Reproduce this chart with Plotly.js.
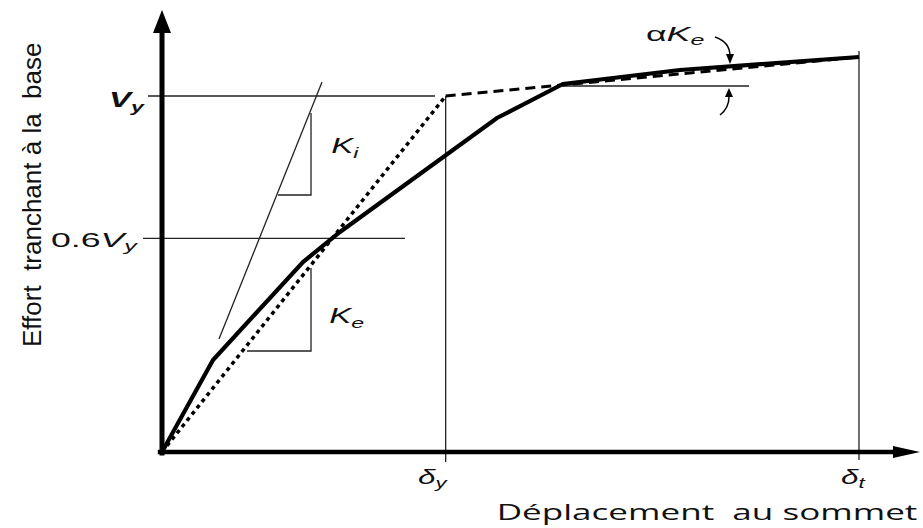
<!DOCTYPE html>
<html>
<head>
<meta charset="utf-8">
<script src="https://cdn.plot.ly/plotly-3.0.1.min.js"></script>
<style>
  html, body { margin: 0; padding: 0; background: #fff; }
  #chart { width: 923px; height: 528px; }
  /* the reference figure is stretched horizontally: mimic it on the labels */
  g.annotation[data-index="0"] text.annotation-text,
  g.annotation[data-index="2"] text.annotation-text,
  g.annotation[data-index="3"] text.annotation-text,
  g.annotation[data-index="5"] text.annotation-text,
  g.annotation[data-index="6"] text.annotation-text {
    transform: scaleX(1.5); transform-box: fill-box; transform-origin: center;
  }
  g.annotation[data-index="1"] text.annotation-text,
  g.annotation[data-index="4"] text.annotation-text {
    transform: scaleX(1.7); transform-box: fill-box; transform-origin: center;
  }
  g.annotation[data-index="7"] text.annotation-text {
    transform: scaleX(1.67); transform-box: fill-box; transform-origin: center;
  }
</style>
</head>
<body>
<div id="chart"></div>
<script>
// ---- values (displacement in units of delta_t, shear in units of V_y) ----
const pushoverX = [0, 0.0732, 0.2023, 0.2554, 0.4806, 0.5753, 0.7432, 1.0];
const pushoverY = [0, 0.2584, 0.5337, 0.6180, 0.9382, 1.0337, 1.0730, 1.1096];
const bilinearX = [0, 0.407, 1.0];
const bilinearY = [0, 1.0, 1.1096];
const deltaY = 0.407;
const deltaT = 1.0;
const Vy = 1.0;
const ratio06 = 0.6;
const kiLineX = [0.0818, 0.2296];
const kiLineY = [0.3174, 1.0393];
const kiTriX = [0.1664, 0.2138, 0.2138];
const kiTriY = [0.7219, 0.7219, 0.9522];
const keTriX = [0.1220, 0.2138, 0.2138];
const keTriY = [0.2837, 0.2837, 0.5169];
const alphaRefX = [0.5753, 0.8422];
const alphaRefY = [1.0281, 1.0281];
const upperArrowX = [0.7934, 0.8149, 0.8149];
const upperArrowY = [1.1657, 1.1517, 1.1124];
const upperHeadX = [0.8092, 0.8207, 0.8149];
const upperHeadY = [1.1180, 1.1180, 1.0900];
const lowerArrowX = [0.8006, 0.8135, 0.8135];
const lowerArrowY = [0.9466, 0.9663, 0.9972];
const lowerHeadX = [0.8077, 0.8192, 0.8135];
const lowerHeadY = [0.9972, 0.9972, 1.0225];
const xAxisEnd = 1.0875, yAxisEnd = 1.2416;
const yTickLabels = ['<b><i>V<sub>y</sub></i></b>', '0.6<i>V<sub>y</sub></i>'];
const xTickLabels = ['<i>δ<sub>y</sub></i>', '<i>δ<sub>t</sub></i>'];
const slopeLabels = ['<i>K<sub>i</sub></i>', '<i>K<sub>e</sub></i>', 'α<i>K<sub>e</sub></i>'];
const xTitle = 'Déplacement\u00a0 au sommet';
const yTitle = 'Effort\u00a0 tranchant à la\u00a0 base';

const thin = {color: '#222', width: 1.3};
function seg(x, y, line) {
  return {type: 'scatter', mode: 'lines', x: x, y: y, line: line, hoverinfo: 'skip'};
}
function tri(x, y) {
  return {type: 'scatter', mode: 'lines', x: x.concat([x[0]]), y: y.concat([y[0]]),
          fill: 'toself', fillcolor: '#000', line: {width: 0, color: '#000'}, hoverinfo: 'skip'};
}
const xHeadLen = 0.0387, xHeadHalf = 0.0169, yHeadLen = 0.0646, yHeadHalf = 0.0129;

const traces = [
  // reference lines
  seg([-0.0201, 0.3917], [Vy, Vy], thin),
  seg([-0.0273, 0.3486], [ratio06 * Vy, ratio06 * Vy], thin),
  seg([deltaY, deltaY], [Vy, -0.0281], thin),
  seg([deltaT, deltaT], [1.1264, -0.0225], thin),
  seg(kiLineX, kiLineY, thin),
  seg(kiTriX, kiTriY, thin),
  seg(keTriX, keTriY, thin),
  seg(alphaRefX, alphaRefY, thin),
  // idealised bilinear curve
  seg(bilinearX.slice(0, 2), bilinearY.slice(0, 2), {color: '#000', width: 3.5, dash: '4px,4px'}),
  seg(bilinearX.slice(1), bilinearY.slice(1), {color: '#000', width: 3, dash: '10px,6px'}),
  // pushover curve
  seg(pushoverX, pushoverY, {color: '#000', width: 4.2}),
  // axes
  seg([-0.006, xAxisEnd - xHeadLen], [0, 0], {color: '#000', width: 4.5}),
  seg([0, 0], [-0.01, yAxisEnd - yHeadLen], {color: '#000', width: 5}),
  tri([xAxisEnd - xHeadLen, xAxisEnd - xHeadLen, xAxisEnd], [-xHeadHalf, xHeadHalf, 0]),
  tri([-yHeadHalf, yHeadHalf, 0], [yAxisEnd - yHeadLen, yAxisEnd - yHeadLen, yAxisEnd]),
  // arrow heads for alpha*Ke
  tri(upperHeadX, upperHeadY),
  tri(lowerHeadX, lowerHeadY)
];

function qpath(x, y) {
  return 'M ' + x[0] + ' ' + y[0] + ' Q ' + x[1] + ' ' + y[1] + ' ' + x[2] + ' ' + y[2];
}
const shapes = [
  {type: 'path', xref: 'x', yref: 'y', path: qpath(upperArrowX, upperArrowY), line: {color: '#000', width: 1.5}},
  {type: 'path', xref: 'x', yref: 'y', path: qpath(lowerArrowX, lowerArrowY), line: {color: '#000', width: 1.5}}
];

const mathFont = {family: 'Liberation Sans, Arial, sans-serif', size: 21, color: '#111'};
function lab(text, x, y, font, extra) {
  return Object.assign({xref: 'x', yref: 'y', x: x, y: y, text: text, showarrow: false,
    xanchor: 'center', yanchor: 'middle', font: font}, extra || {});
}
const annotations = [
  lab(yTickLabels[0], -0.0502, 0.985, Object.assign({}, mathFont, {size: 22})),
  lab(yTickLabels[1], -0.0961, 0.5927, mathFont),
  lab(slopeLabels[0], 0.2626, 0.8567, Object.assign({}, mathFont, {size: 22})),
  lab(slopeLabels[1], 0.264, 0.3792, Object.assign({}, mathFont, {size: 22})),
  lab(slopeLabels[2], 0.736, 1.1713, mathFont),
  lab(xTickLabels[0], deltaY - 0.018, -0.073, mathFont),
  lab(xTickLabels[1], deltaT - 0.008, -0.073, mathFont),
  lab(xTitle, 0.7819, -0.1685, {family: 'Open Sans, sans-serif', size: 21, color: '#111'}),
  lab(yTitle, -0.1865, 0.7219, {family: 'Liberation Sans, sans-serif', size: 26, color: '#111'}, {textangle: -90})
];

const layout = {
  width: 923, height: 528,
  margin: {l: 0, r: 0, t: 0, b: 0, pad: 0},
  paper_bgcolor: '#fff', plot_bgcolor: '#fff',
  showlegend: false,
  xaxis: {range: [-0.23242, 1.09183], visible: false, fixedrange: true},
  yaxis: {range: [-0.21348, 1.26966], visible: false, fixedrange: true},
  shapes: shapes,
  annotations: annotations
};
Plotly.newPlot('chart', traces, layout, {staticPlot: true, displayModeBar: false});
</script>
</body>
</html>
